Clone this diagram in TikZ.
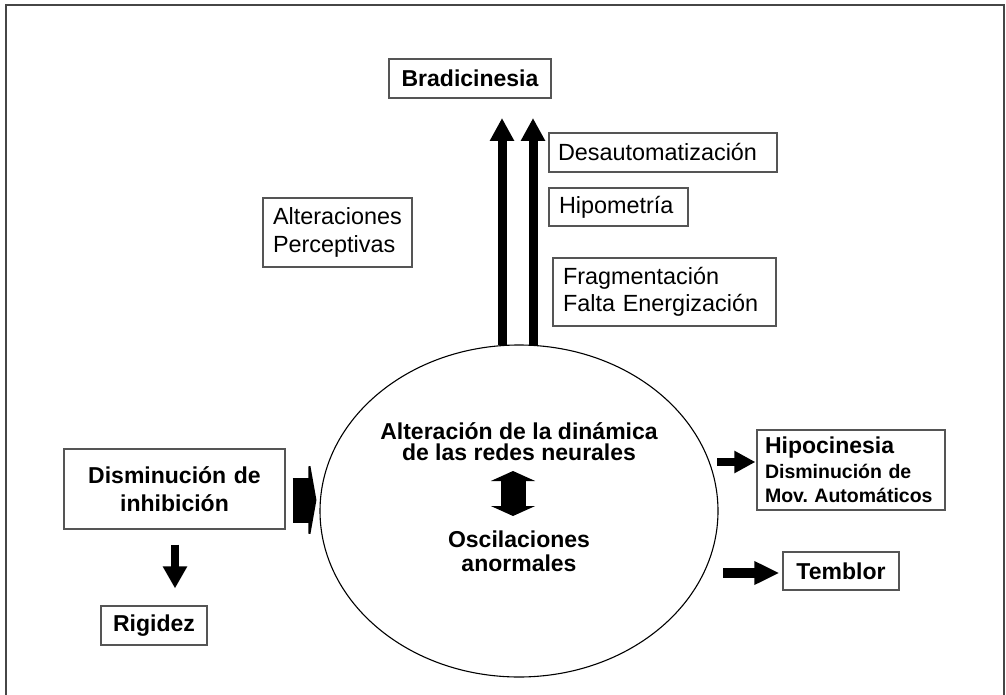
\documentclass[tikz,border=0pt]{standalone}
\usepackage{fontspec}
\setmainfont{Liberation Sans}
\usetikzlibrary{arrows.meta,shapes.geometric}
\definecolor{framegray}{RGB}{70,70,70}
\definecolor{boxgray}{RGB}{85,85,85}
\frenchspacing
\begin{document}
\begin{tikzpicture}[x=1pt,y=-1pt,
  box/.style={draw=boxgray,line width=1.2pt,inner ysep=0pt,fill=white},
  reg/.style={font=\fontsize{23.4}{27.5}\selectfont},
  bld/.style={font=\fontsize{23}{26}\selectfont\bfseries},
  blockarrow/.style={draw=black,line width=#1}
]
\useasboundingbox (0,0) rectangle (1006,695);
\fill[white] (0,0) rectangle (1006,695);
% outer frame (bottom edge outside the picture)
\draw[framegray,line width=2pt] (6,720) -- (6,5) -- (1004,5) -- (1004,720);

% central ellipse
\node[draw,ellipse,line width=1.1pt,minimum width=398pt,minimum height=332pt,inner sep=0pt] (ell) at (519,511) {};
\node[bld,align=center,font=\fontsize{23}{21}\selectfont\bfseries] (alt) at (519,442) {Alteración de la dinámica\\de las redes neurales};
\node[bld,align=center,font=\fontsize{23}{24}\selectfont\bfseries] (osc) at (519,551) {Oscilaciones\\anormales};
\coordinate (dtop) at (513,471);
\coordinate (dbot) at (513,516);
\draw[blockarrow=25pt,{Triangle[width=44pt,length=10pt]}-{Triangle[width=44pt,length=10pt]}] (dtop) -- (dbot);

% top boxes
\node[box,bld,minimum width=162pt,minimum height=39pt,inner xsep=0pt] (brad) at (470,78.5) {Bradicinesia};
\node[box,reg,minimum height=39pt,inner xsep=9pt,text width=210pt,align=left] (desa) at (663,152.5) {Desautomatización};
\node[box,reg,minimum height=38pt,inner xsep=10pt,text width=119pt,align=left] (hipo) at (618.5,207) {Hipometría};
\node[box,reg,minimum height=68pt,inner xsep=10pt,text width=203pt,align=left] (frag) at (664.5,292) {Fragmentación\\Falta Energización};
\node[box,reg,minimum height=69pt,inner xsep=10pt,text width=129pt,align=left] (perc) at (337.5,232.5) {Alteraciones\\Perceptivas};

% up arrows
\coordinate (u1) at (502,118);
\coordinate (u2) at (533,118);
\draw[blockarrow=9pt,-{Triangle[width=23pt,length=23pt]}] ([xshift=-17pt,yshift=-1pt]ell.north) -- (u1);
\draw[blockarrow=9pt,-{Triangle[width=23pt,length=23pt]}] ([xshift=14pt,yshift=-1pt]ell.north) -- (u2);

% left side
\node[box,bld,minimum height=80pt,inner xsep=10pt,text width=201pt,align=center,font=\fontsize{23}{28}\selectfont\bfseries] (inhib) at (174.5,489) {Disminución de\\inhibición};
\draw[blockarrow=45pt,-{Triangle[width=90pt,length=8pt]}] ([xshift=7pt,yshift=-11pt]inhib.east) -- ([xshift=-3pt,yshift=11pt]ell.west);
\node[box,bld,minimum width=106pt,minimum height=39pt,inner xsep=0pt] (rig) at (154,625.5) {Rigidez};
\draw[blockarrow=8pt,-{Triangle[width=23pt,length=22pt]}] ([xshift=0.5pt,yshift=-15pt]inhib.south) -- ([yshift=17pt]rig.north -| 175,0);

% right side
\node[box,minimum height=80pt,inner xsep=8pt,text width=172pt,align=left,font=\fontsize{19.5}{24.5}\selectfont\bfseries] (hipoc) at (851,470) {{\fontsize{23}{24.5}\selectfont Hipocinesia}\\Disminución de\\Mov.\ Automáticos};
\draw[blockarrow=8pt,-{Triangle[width=21pt,length=21pt]}] (717,462) -- ([xshift=-1pt]hipoc.west |- 0,462);
\node[box,bld,minimum width=116pt,minimum height=38pt,inner xsep=0pt] (temb) at (841,571) {Temblor};
\draw[blockarrow=10pt,-{Triangle[width=22pt,length=25pt]}] (723,573) -- ([xshift=-3pt]temb.west |- 0,573);
\end{tikzpicture}
\end{document}
